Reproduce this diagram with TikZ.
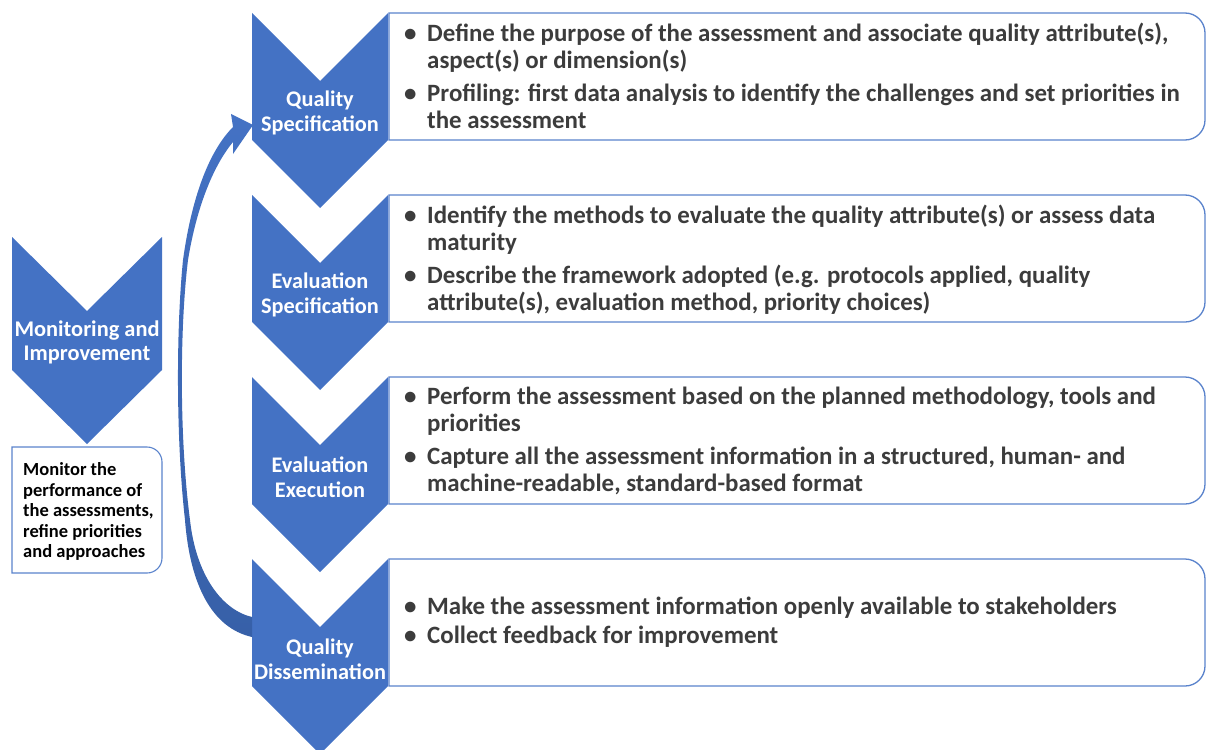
\documentclass[tikz,border=0pt]{standalone}
\usepackage{fontspec}
\setmainfont{Carlito}
\usetikzlibrary{positioning}
\definecolor{chevblue}{HTML}{4472C4}
\definecolor{boxline}{HTML}{5A83CC}
\definecolor{bodytext}{HTML}{3C3C3C}
\definecolor{arrowdark}{HTML}{3760A8}
\tikzset{
  chev/.style={fill=chevblue},
  chevlabel/.style={
    text=white,
    font=\bfseries\fontsize{22.3}{25}\selectfont,
    align=center,
    inner sep=0pt
  },
  bodybox/.style={draw=boxline, line width=1.3pt, fill=white},
  bodytxt/.style={
    text=bodytext,
    font=\bfseries\fontsize{24.9}{27}\selectfont,
    inner sep=0pt,
    anchor=west
  },
  monbox/.style={draw=boxline, line width=1.1pt, fill=white},
  montxt/.style={
    text=black,
    font=\bfseries\fontsize{18.5}{20.5}\selectfont,
    align=left,
    inner sep=0pt,
    anchor=west
  }
}
\newcommand\itm{\makebox[23pt][l]{\textbullet}}

\begin{document}
\begin{tikzpicture}[x=1pt,y=1pt]
\useasboundingbox (0,0) rectangle (1206,-749);

% boxes on the right, square on the left, round on the right
\foreach \yy in {13,195,377,559}
{
  \draw[bodybox] (389,-\yy) -- (1185,-\yy)
     arc[start angle=90,end angle=0,radius=20pt] -- (1205,-\yy-107)
     arc[start angle=0,end angle=-90,radius=20pt] -- (389,-\yy-127) -- cycle;
}

% the four steps
\foreach \yy/\lab [count=\i] in {13/{Quality\\Specification},
                                 195/{Evaluation\\Specification},
                                 377/{Evaluation\\Execution},
                                 559/{Quality\\Dissemination}}
{
  \fill[chev] (252,-\yy) -- (320,-\yy-68) -- (388,-\yy) -- (388,-\yy-127)
     -- (320,-\yy-195) -- (252,-\yy-127) -- cycle;
  \node[chevlabel] (chev\i) at (320,-\yy-100) {\lab};
}

\node[bodytxt] (txt1) at (404,-80)
{\begin{tabular}{@{}l@{}l@{}}
\itm & Define the purpose of the assessment and associate quality attribute(s), \\
     & aspect(s) or dimension(s) \\[6pt]
\itm & Profiling: first data analysis to identify the challenges and set priorities in \\
     & the assessment
\end{tabular}};

\node[bodytxt] (txt2) at (404,-261.5)
{\begin{tabular}{@{}l@{}l@{}}
\itm & Identify the methods to evaluate the quality attribute(s) or assess data \\
     & maturity \\[6pt]
\itm & Describe the framework adopted (e.g. protocols applied, quality \\
     & attribute(s), evaluation method, priority choices)
\end{tabular}};

\node[bodytxt] (txt3) at (404,-443)
{\begin{tabular}{@{}l@{}l@{}}
\itm & Perform the assessment based on the planned methodology, tools and \\
     & priorities \\[6pt]
\itm & Capture all the assessment information in a structured, human- and \\
     & machine-readable, standard-based format
\end{tabular}};

\node[bodytxt] (txt4) at (404,-624)
{\begin{tabular}{@{}l@{}l@{}}
\itm & Make the assessment information openly available to stakeholders \\[2pt]
\itm & Collect feedback for improvement
\end{tabular}};

% monitoring step on the left
\draw[monbox] (12,-447) -- (147,-447)
   arc[start angle=90,end angle=0,radius=15pt] -- (162,-558)
   arc[start angle=0,end angle=-90,radius=15pt] -- (12,-573) -- cycle;
\fill[chev] (12,-237) -- (87,-311) -- (162,-237) -- (162,-370)
   -- (87,-444) -- (12,-370) -- cycle;
\node[chevlabel, font=\bfseries\fontsize{22.4}{24}\selectfont] (mon) at (87,-342)
   {Monitoring and\\Improvement};
\node[montxt] (montext) at (23,-511.5)
   {Monitor the\\performance of\\the assessments,\\refine priorities\\and approaches};

% curved arrow, dissemination back to specification
\shade[top color=chevblue, bottom color=arrowdark]
  (252,-637) .. controls (212,-628) and (190,-585) .. (185,-520)
  .. controls (176,-440) and (176,-330) .. (183,-260)
  .. controls (192,-195) and (210,-150) .. (233,-127)
  -- (231,-114) -- (253,-125) -- (233,-154) -- (233,-142)
  .. controls (214,-165) and (197,-205) .. (188,-260)
  .. controls (179.5,-330) and (179.5,-440) .. (190,-520)
  .. controls (196,-575) and (222,-610) .. (252,-617) -- cycle;

\end{tikzpicture}
\end{document}
